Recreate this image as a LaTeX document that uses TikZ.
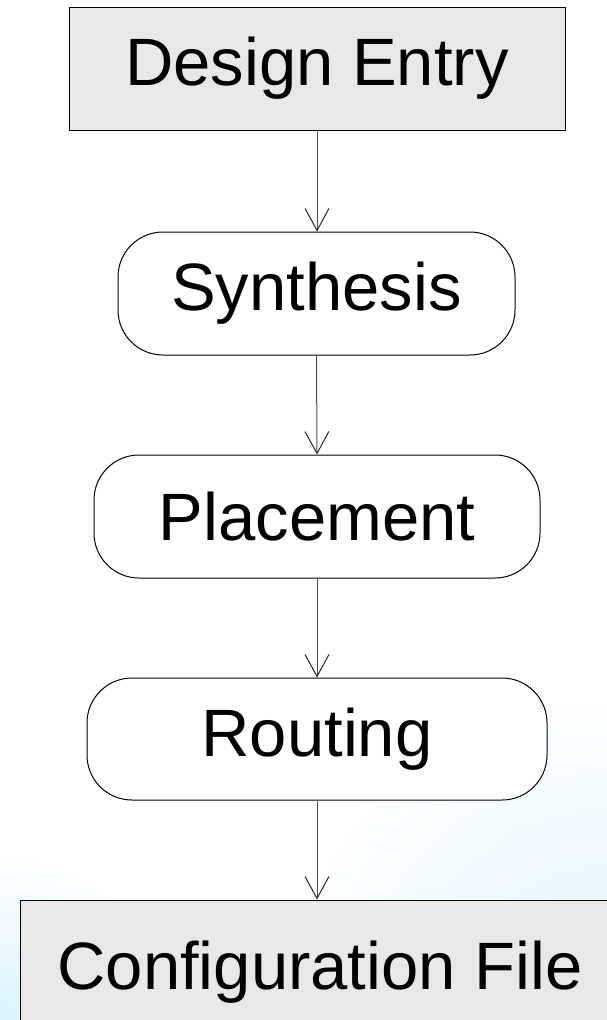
\documentclass[tikz,border=0pt]{standalone}
\usepackage{fontspec}
\setmainfont{Liberation Sans}
\usetikzlibrary{arrows.meta,fadings}
\definecolor{boxgray}{RGB}{232,232,232}
\definecolor{bgblue}{RGB}{218,243,252}
\tikzset{
  stage/.style={draw, line width=1pt, fill=boxgray, font=\fontsize{67}{80}\selectfont, inner sep=0pt},
  pass/.style={draw, line width=1pt, fill=white, rounded corners=45pt, font=\fontsize{67}{80}\selectfont, inner sep=0pt},
  flow/.style={draw=black!70, line width=1pt, -{Straight Barb[length=22pt,width=24pt,line width=1pt,color=black!85]}}
}
\begin{document}
\begin{tikzpicture}[x=1pt,y=-1pt]
    \useasboundingbox (0,0) rectangle (607,1020);
    \clip (0,0) rectangle (607,1020);
    % soft blue background in the lower corners
    \shade[inner color=bgblue, outer color=white] (607,1020) circle (330);
    \shade[inner color=bgblue, outer color=white] (0,1020) circle (170);
    \node[stage, minimum width=496pt, minimum height=123pt] (entry) at (317,68.5) {Design Entry};
    \node[pass, minimum width=397pt, minimum height=123pt] (synth) at (316.5,293.5) {Synthesis};
    \node[pass, minimum width=446pt, minimum height=123pt] (place) at (317,516.5) {Placement};
    \node[pass, minimum width=460pt, minimum height=122pt] (route) at (317,739) {Routing};
    \node[stage, minimum width=600pt, minimum height=130pt, text depth=0pt] (config) at (320,965) {Configuration File};
    \draw[flow] (entry.south) -- (entry.south |- synth.north);
    \draw[flow] (synth.south) -- (entry.south |- place.north);
    \draw[flow] (place.south) -- (entry.south |- route.north);
    \draw[flow] (route.south) -- (entry.south |- config.north);
\end{tikzpicture}
\end{document}
